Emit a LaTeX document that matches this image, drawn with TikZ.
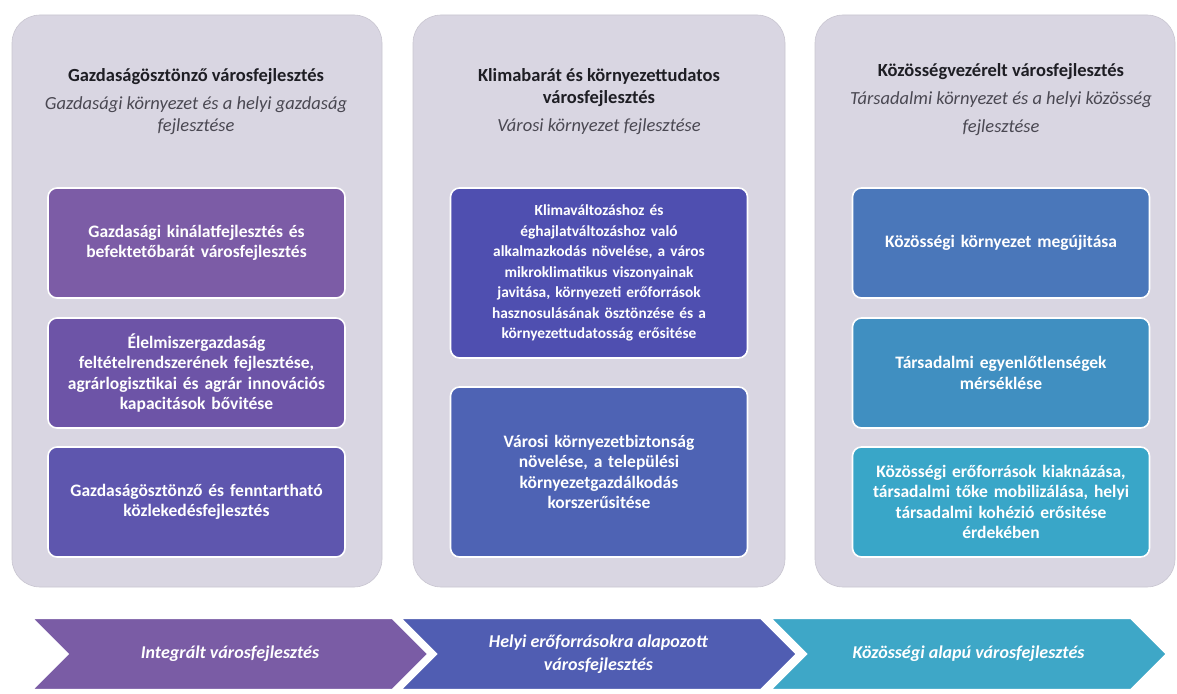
\documentclass[tikz,border=0pt]{standalone}
\usepackage{fontspec}
\setmainfont{Carlito}
\usepackage{tikz}
\usetikzlibrary{positioning,shapes.symbols}
\definecolor{panelgray}{HTML}{D9D6E2}
\definecolor{titleink}{HTML}{1E1E24}
\definecolor{subink}{HTML}{4A4852}
\definecolor{gA}{HTML}{7C5CA6}
\definecolor{gB}{HTML}{6D54A7}
\definecolor{gC}{HTML}{5E56AE}
\definecolor{kA}{HTML}{4F4FB0}
\definecolor{kB}{HTML}{4E63B4}
\definecolor{tA}{HTML}{4A77BA}
\definecolor{tB}{HTML}{408FC1}
\definecolor{tC}{HTML}{39A6C8}
\definecolor{arA}{HTML}{7A5CA5}
\definecolor{arB}{HTML}{505DB2}
\definecolor{arC}{HTML}{3EA7C7}
\tikzset{
  x=1pt,y=-1pt,
  panel/.style={fill=panelgray,draw=panelgray!92!black,line width=0.6pt,
    rounded corners=28pt,inner sep=0pt},
  paneltitle/.style={font=\fontsize{18.5}{22}\selectfont\bfseries,text=titleink,
    align=center,inner sep=0pt},
  panelsub/.style={font=\fontsize{18.5}{22}\selectfont\itshape,text=subink,
    align=center,inner sep=0pt},
  goalbox/.style={draw=white,line width=1.6pt,rounded corners=9pt,
    minimum width=297pt,text width=290pt,align=center,text=white,
    font=\fontsize{17.5}{20.3}\selectfont\bfseries,inner sep=0pt},
  stagearrow/.style={signal,signal to=east,signal from=west,
    signal pointer angle=90,minimum width=397pt,minimum height=72pt,
    draw=white,line width=2.4pt,inner sep=0pt},
  stagelbl/.style={font=\fontsize{18}{23}\selectfont\bfseries\itshape,
    text=white,align=center},
}
\begin{document}
\begin{tikzpicture}
  \useasboundingbox (0,0) rectangle (1177,693);
  % three panels
  \node[panel,minimum width=370pt,minimum height=572pt] (econ) at (197,301) {};
  \node[panel,minimum width=372pt,minimum height=572pt] (clim) at (599,301) {};
  \node[panel,minimum width=360pt,minimum height=572pt] (comm) at (995,301) {};

  \node[paneltitle] (econtitle) at (196,77) {Gazdaságösztönző városfejlesztés};
  \node[panelsub] (econsub) at (196,116) {Gazdasági környezet és a helyi gazdaság\\fejlesztése};
  \node[paneltitle] (climtitle) at (599,88) {Klimabarát és környezettudatos\\városfejlesztés};
  \node[panelsub] (climsub) at (599,127) {Városi környezet fejlesztése};
  \node[paneltitle] (commtitle) at (1001,72) {Közösségvezérelt városfejlesztés};
  \node[panelsub,font=\fontsize{18.5}{28}\selectfont\itshape] (commsub) at (1001,114)
    {Társadalmi környezet és a helyi közösség\\fejlesztése};

  % goal boxes
  \node[goalbox,fill=gA,minimum height=110pt] (econA) at (196.5,243)
    {Gazdasági kinálatfejlesztés és\\befektetőbarát városfejlesztés};
  \node[goalbox,fill=gB,minimum height=110pt] (econB) at (196.5,373)
    {Élelmiszergazdaság\\feltételrendszerének fejlesztése,\\agrárlogisztikai és agrár innovációs\\kapacitások bővitése};
  \node[goalbox,fill=gC,minimum height=110pt] (econC) at (196.5,502)
    {Gazdaságösztönző és fenntartható\\közlekedésfejlesztés};

  \node[goalbox,fill=kA,minimum height=170pt,font=\fontsize{15.4}{20.5}\selectfont\bfseries] (climA) at (599,273)
    {Klimaváltozáshoz és\\éghajlatváltozáshoz való\\alkalmazkodás növelése, a város\\mikroklimatikus viszonyainak\\javitása, környezeti erőforrások\\hasznosulásának ösztönzése és a\\környezettudatosság erősitése};
  \node[goalbox,fill=kB,minimum height=170pt] (climB) at (599,472)
    {Városi környezetbiztonság\\növelése, a települési\\környezetgazdálkodás\\korszerűsitése};

  \node[goalbox,fill=tA,minimum height=110pt] (commA) at (1001,243)
    {Közösségi környezet megújitása};
  \node[goalbox,fill=tB,minimum height=110pt] (commB) at (1001,373)
    {Társadalmi egyenlőtlenségek\\mérséklése};
  \node[goalbox,fill=tC,minimum height=110pt] (commC) at (1001,502)
    {Közösségi erőforrások kiaknázása,\\társadalmi tőke mobilizálása, helyi\\társadalmi kohézió erősitése\\érdekében};

  % stage arrows
  \node[stagearrow,fill=arA] (stageA) at (230,654) {};
  \node[stagearrow,fill=arB] (stageB) at (598.5,654) {};
  \node[stagearrow,fill=arC] (stageC) at (968.5,654) {};
  \node[stagelbl] at (stageA.center) {Integrált városfejlesztés};
  \node[stagelbl] at (stageB.center) {Helyi erőforrásokra alapozott\\városfejlesztés};
  \node[stagelbl] at (stageC.center) {Közösségi alapú városfejlesztés};
\end{tikzpicture}
\end{document}
